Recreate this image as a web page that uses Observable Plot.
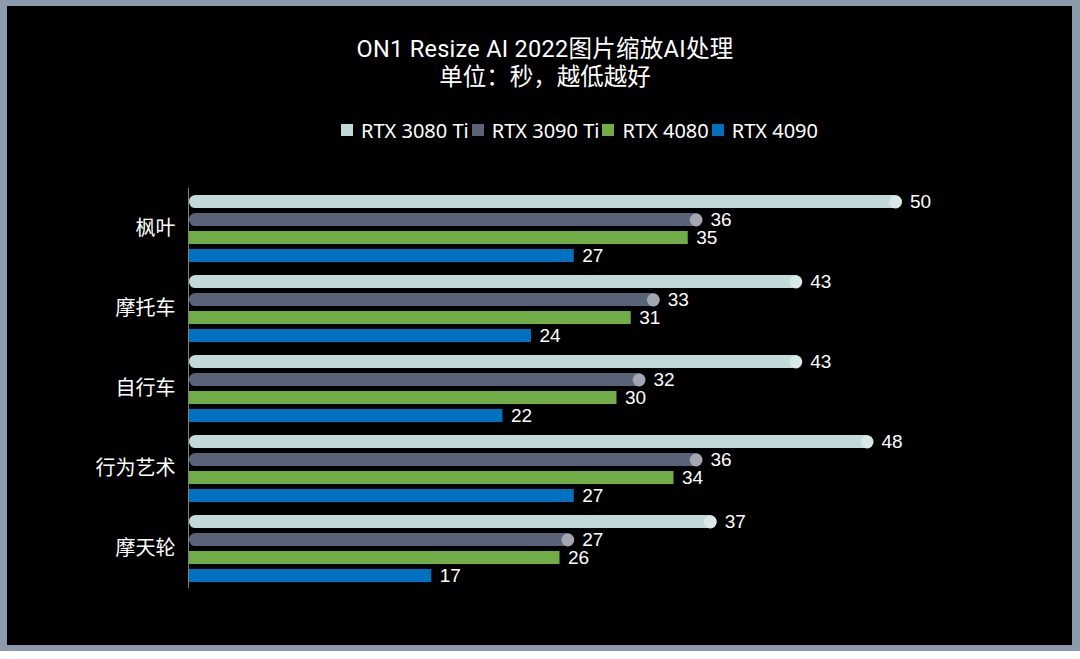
<!DOCTYPE html>
<html>
<head>
<meta charset="utf-8">
<script src="https://cdn.jsdelivr.net/npm/d3@7"></script>
<script src="https://cdn.jsdelivr.net/npm/@observablehq/plot@0.6"></script>
<style>
  html, body { margin: 0; padding: 0; background: #ffffff; }
  body { width: 1080px; height: 659px; overflow: hidden; font-family: "Noto Sans", "Noto Sans CJK SC", sans-serif; }
  #frame { width: 1065px; height: 639px; padding: 6px 8px 6px 7px; background: #8b9bab; }
  #inner { width: 1065px; height: 639px; background: #000; color: #fff; position: relative; overflow: hidden; }
  #title { padding-left: 11px; text-align: center; font-size: 23.5px; line-height: 28px; padding-top: 29px; height: 56px; font-family: Roboto, "Noto Sans CJK SC", sans-serif; }
  #title .t1 { letter-spacing: 0.28px; }
  #legend { display: flex; align-items: center; margin-left: 334px; margin-top: 21px; height: 36px; font-size: 20px; }
  .item { display: flex; align-items: center; margin-right: 3px; }
  .sw { width: 12px; height: 12px; margin-right: 8px; }
  svg { display: block; }
</style>
</head>
<body>
<div id="frame"><div id="inner">
  <div id="title"><div class="t1">ON1 Resize AI 2022图片缩放AI处理</div><div>单位：秒，越低越好</div></div>
  <div id="legend"></div>
  <div id="chart"></div>
</div></div>
<script>
const categories = ["枫叶", "摩托车", "自行车", "行为艺术", "摩天轮"];
const series = ["RTX 3080 Ti", "RTX 3090 Ti", "RTX 4080", "RTX 4090"];
const rtx3080ti = [50, 43, 43, 48, 37];
const rtx3090ti = [36, 33, 32, 36, 27];
const rtx4080 = [35, 31, 30, 34, 26];
const rtx4090 = [27, 24, 22, 27, 17];
const colors = ["#c1d9d9", "#5a6478", "#70ad47", "#0070c0"];
const capColors = ["#dae8e8", "#a2a7b1"];

const seriesValues = [rtx3080ti, rtx3090ti, rtx4080, rtx4090];
const data = [];
categories.forEach((c, i) => {
  series.forEach((s, j) => {
    data.push({category: c, series: s, value: seriesValues[j][i], si: j});
  });
});
const rounded = data.filter(d => d.si < 2);
const flat = data.filter(d => d.si >= 2);

// legend
const legend = document.getElementById("legend");
series.forEach((s, j) => {
  const it = document.createElement("div");
  it.className = "item";
  const sw = document.createElement("div");
  sw.className = "sw";
  sw.style.background = colors[j];
  const tx = document.createElement("span");
  tx.textContent = s;
  it.appendChild(sw);
  it.appendChild(tx);
  legend.appendChild(it);
});

const chart = Plot.plot({
  width: 1065,
  height: 495,
  marginLeft: 182,
  marginRight: 28,
  marginTop: 38,
  marginBottom: 54,
  style: {background: "#000", color: "#fff", fontSize: "20px", fontFamily: "'Noto Sans', 'Noto Sans CJK SC', sans-serif"},
  x: {domain: [0, 60], axis: null},
  y: {domain: series, paddingInner: 0.3, paddingOuter: 0.35, axis: null},
  fy: {domain: categories, padding: 0, label: null, tickSize: 0, tickPadding: 14},
  color: {domain: series, range: colors},
  marks: [
    Plot.barX(flat, {x: "value", y: "series", fy: "category", fill: "series"}),
    Plot.barX(rounded, {x: "value", y: "series", fy: "category", fill: "series", rx: 6.4}),
    Plot.dot(rounded, {x: "value", y: "series", fy: "category", r: 6.4, dx: -6.4, fill: d => capColors[d.si]}),
    Plot.text(data, {x: "value", y: "series", fy: "category", text: d => String(d.value), textAnchor: "start", dx: 8, fill: "#fff", fontSize: 19, fontFamily: "'Liberation Sans', Arial, sans-serif"}),
    Plot.ruleX([0], {stroke: "#808080", dx: -1})
  ]
});
document.getElementById("chart").appendChild(chart);
</script>
</body>
</html>
